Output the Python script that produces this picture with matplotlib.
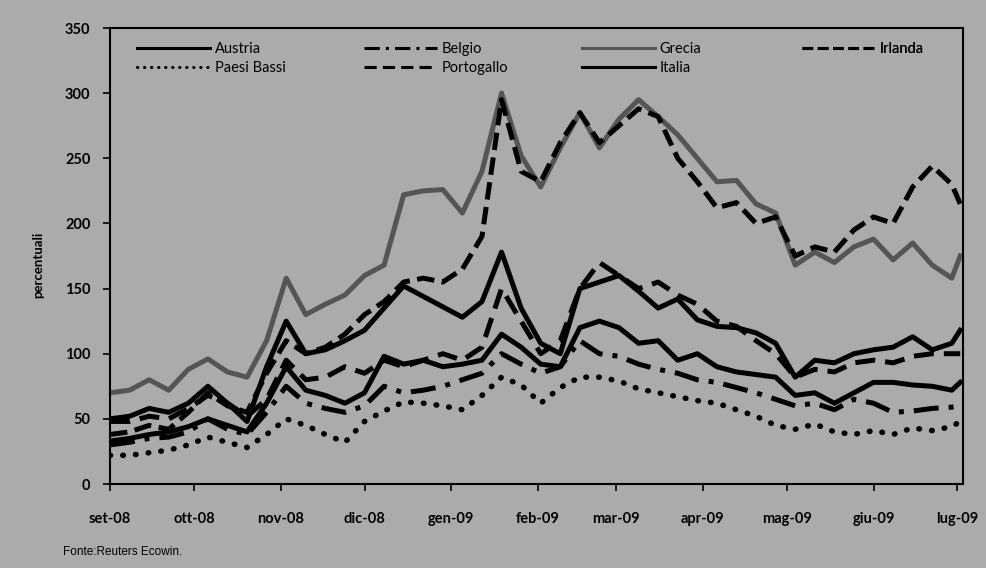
import matplotlib
matplotlib.use("Agg")
import matplotlib.pyplot as plt
import pandas as pd

plt.rcParams['font.family'] = ['Lato', 'DejaVu Sans']

# weekly readings from 1 Sep 2008, plus a last one on 2 Jul 2009
dates = pd.date_range('2008-09-01', periods=44, freq='7D').append(pd.DatetimeIndex(['2009-07-02']))

grecia = [70, 72, 80, 72, 88, 96, 86, 82, 110, 158, 130, 138, 145, 160, 168, 222, 225, 226, 208, 240,
          300, 252, 228, 258, 285, 258, 280, 295, 282, 268, 250, 232, 233, 215, 208, 168, 178, 170, 182, 188,
          172, 185, 168, 158, 175]
irlanda = [38, 40, 45, 42, 55, 70, 60, 55, 85, 110, 100, 105, 115, 130, 140, 155, 158, 155, 165, 190,
           295, 240, 232, 262, 285, 262, 275, 288, 282, 250, 232, 212, 216, 200, 205, 175, 182, 178, 195, 205,
           200, 228, 244, 230, 215]
italia = [50, 52, 58, 55, 62, 75, 62, 48, 90, 125, 100, 103, 110, 118, 135, 152, 144, 136, 128, 140,
          178, 135, 108, 100, 150, 155, 160, 148, 135, 142, 126, 121, 120, 116, 108, 82, 95, 93, 100, 103,
          105, 113, 103, 108, 118]
portogallo = [48, 48, 52, 50, 58, 68, 62, 52, 65, 95, 80, 82, 90, 85, 95, 90, 95, 100, 95, 105,
              150, 125, 100, 110, 150, 170, 160, 150, 155, 145, 138, 125, 121, 110, 100, 82, 88, 86, 93, 95,
              93, 98, 100, 100, 100]
austria = [33, 35, 38, 40, 44, 50, 45, 40, 62, 90, 72, 68, 62, 70, 98, 92, 95, 90, 92, 95,
           115, 105, 92, 90, 120, 125, 120, 108, 110, 95, 100, 90, 86, 84, 82, 68, 70, 62, 70, 78,
           78, 76, 75, 72, 78]
belgio = [30, 32, 35, 36, 40, 50, 42, 38, 55, 75, 62, 58, 55, 60, 75, 70, 72, 75, 80, 85,
          100, 92, 85, 90, 110, 100, 98, 92, 88, 85, 80, 78, 74, 70, 65, 60, 62, 57, 65, 62,
          55, 56, 58, 59, 60]
paesi_bassi = [22, 22, 24, 26, 30, 36, 32, 28, 38, 50, 45, 38, 32, 48, 56, 63, 62, 60, 57, 68,
               82, 76, 62, 74, 82, 82, 79, 73, 70, 67, 64, 62, 57, 52, 45, 42, 46, 40, 38, 41,
               38, 43, 41, 44, 48]

month_ticks = pd.date_range('2008-09-01', '2009-07-01', freq='MS')
month_labels = ['set-08', 'ott-08', 'nov-08', 'dic-08', 'gen-09', 'feb-09',
                'mar-09', 'apr-09', 'mag-09', 'giu-09', 'lug-09']

bg = '#ababab'
fig = plt.figure(figsize=(9.87, 5.68), dpi=100, facecolor=bg)
ax = fig.add_axes([110/987, 1 - 484/568, 853/987, 456/568], facecolor=bg)

lw = 3.6
l_aus, = ax.plot(dates, austria, color='black', lw=lw, label='Austria')
l_bel, = ax.plot(dates, belgio, color='black', lw=lw, ls=(0, (5, 2, 1, 2)), label='Belgio')
l_gre, = ax.plot(dates, grecia, color='#555555', lw=lw, label='Grecia')
l_irl, = ax.plot(dates, irlanda, color='black', lw=lw, ls=(0, (3.5, 1.5)), label='Irlanda')
l_pb, = ax.plot(dates, paesi_bassi, color='black', lw=lw + 0.4, ls=(0, (0.1, 2.2)),
                dash_capstyle='round', label='Paesi Bassi')
l_por, = ax.plot(dates, portogallo, color='black', lw=lw, ls=(0, (4, 2)), label='Portogallo')
l_ita, = ax.plot(dates, italia, color='black', lw=lw, label='Italia')

ax.set_ylim(0, 350)
ax.set_yticks(range(0, 351, 50))
ax.set_xlim(pd.Timestamp('2008-09-01'), pd.Timestamp('2009-07-03'))
ax.set_xticks(month_ticks)
ax.set_xticklabels(month_labels)
ax.tick_params(axis='both', direction='out', length=5, width=1.2, color='black',
               labelsize=10.5)
ax.tick_params(axis='x', pad=15)
ax.tick_params(axis='y', pad=9)
for t in ax.get_xticklabels() + ax.get_yticklabels():
    t.set_fontweight('bold')
for s in ax.spines.values():
    s.set_linewidth(1.5)
    s.set_color('black')

fig.text(38/987, 1 - 265/568, 'percentuali', rotation=90, ha='center', va='center',
         fontsize=9.5, fontweight='bold')
fig.text(63/987, 1 - 552/568, 'Fonte:Reuters Ecowin.', fontsize=8.5,
         family=['Liberation Sans', 'DejaVu Sans'], va='center')

# legend in four columns, placed like the original
cols = [([l_aus, l_pb], 130), ([l_bel, l_por], 357), ([l_gre, l_ita], 575), ([l_irl], 795)]
for hs, xpx in cols:
    leg = ax.legend(handles=hs, loc='upper left', bbox_to_anchor=(xpx / 987, 1 - 35 / 568),
                    bbox_transform=fig.transFigure, frameon=False, borderpad=0,
                    handlelength=5, handletextpad=0.3, labelspacing=0.35,
                    prop={'size': 10.5})
    for ln in leg.get_lines():
        ln.set_linewidth(2.2)
    ax.add_artist(leg)

fig.savefig('out.png', dpi=100)
